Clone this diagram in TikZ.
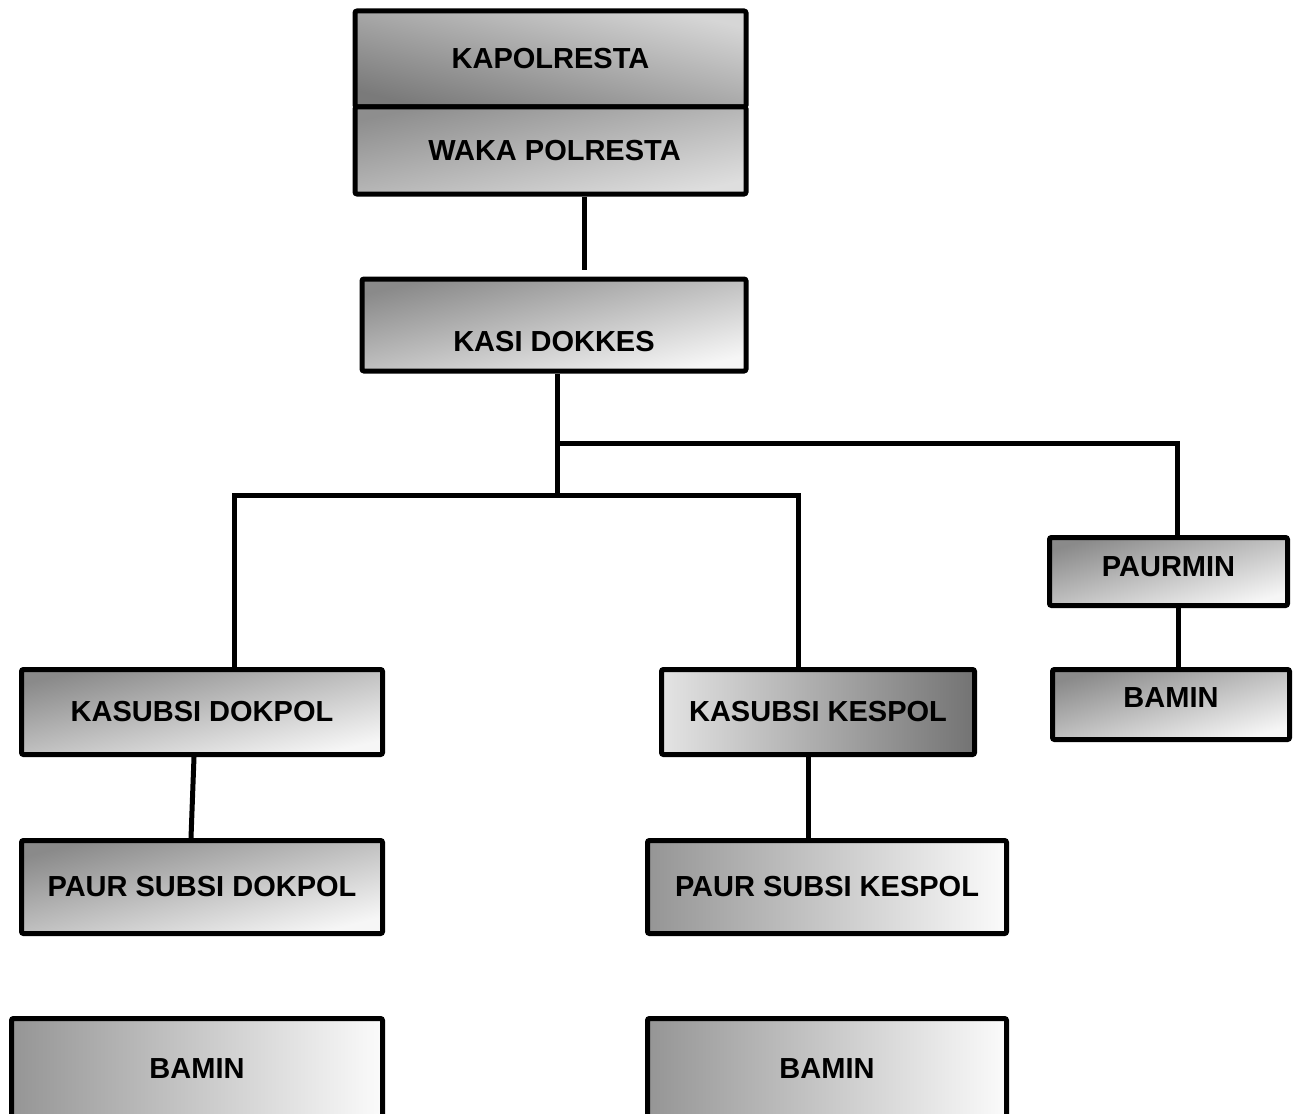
\documentclass[tikz,border=0pt]{standalone}
\usepackage{fontspec}
\setmainfont{Liberation Sans}
\definecolor{dk}{HTML}{8A8A8A}
\definecolor{lt}{HTML}{F6F6F6}
\definecolor{kdk}{HTML}{7A7A7A}
\definecolor{klt}{HTML}{D6D6D6}
\definecolor{wdk}{HTML}{8E8E8E}
\definecolor{wlt}{HTML}{DEDEDE}
\definecolor{hdk}{HTML}{959595}
\definecolor{hlt}{HTML}{FBFBFB}
\definecolor{rdk}{HTML}{737373}
\definecolor{rlt}{HTML}{E4E4E4}
\begin{document}
\begin{tikzpicture}[x=1pt,y=-1pt,
  every node/.style={font=\fontsize{29}{34}\selectfont\bfseries, text=black},
  box/.style={draw=black, line width=5pt, rounded corners=2pt, inner sep=0pt, rectangle},
  diag/.style={top color=dk, bottom color=lt, shading angle=#1},
  kapshade/.style={top color=klt, bottom color=kdk, shading angle=-14},
  wakashade/.style={top color=wdk, bottom color=wlt, shading angle=12.5},
  hshade/.style={left color=hdk, right color=hlt},
  rshade/.style={left color=rlt, right color=rdk},
  conn/.style={draw=black, line width=5pt}]
\useasboundingbox (0,0) rectangle (1297,1113);

% boxes
\node[box, kapshade, minimum width=391pt, minimum height=96pt] (kap) at (550.5,59) {KAPOLRESTA};
\node[box, wakashade, minimum width=391pt, minimum height=87pt] (waka) at (550.5,150.5) {\hspace{8pt}WAKA POLRESTA};
\node[box, diag=13.5, minimum width=384pt, minimum height=92pt,
      label={[name=kasit, yshift=-17pt]center:KASI DOKKES}] (kasi) at (554,325) {};
\node[box, diag=16, minimum width=238pt, minimum height=68pt,
      label={[name=paurmint, yshift=4.5pt]center:PAURMIN}] (paurmin) at (1168.5,571.5) {};
\node[box, diag=16.5, minimum width=237pt, minimum height=70pt,
      label={[name=bamrt, yshift=7pt]center:BAMIN}] (bamr) at (1171,704.5) {};
\node[box, diag=13.2, minimum width=361pt, minimum height=85pt] (ksd) at (202,712) {KASUBSI DOKPOL};
\node[box, diag=14.4, minimum width=361pt, minimum height=93pt] (psd) at (202,887) {PAUR SUBSI DOKPOL};
\node[box, hshade, minimum width=371pt, minimum height=100pt] (baml) at (197,1068.5) {BAMIN};
\node[box, rshade, minimum width=313pt, minimum height=85pt] (ksk) at (818,712) {KASUBSI KESPOL};
\node[box, hshade, minimum width=359pt, minimum height=93pt] (psk) at (827,887) {PAUR SUBSI KESPOL};
\node[box, hshade, minimum width=359pt, minimum height=100pt] (bamm) at (827,1068.5) {BAMIN};

% junctions
\coordinate (j1) at (557,443);
\coordinate (j2) at (557,495);

% connectors
\draw[conn] ([xshift=34pt]waka.south) -- ([xshift=30.5pt,yshift=7pt]kasi.north);
\draw[conn] ([xshift=3pt]kasi.south) -- (j2);
\draw[conn] (j1) -| ([xshift=8.5pt]paurmin.north);
\draw[conn] ([xshift=32.5pt]ksd.north) |- (j2) -| ([xshift=-19.5pt]ksk.north);
\draw[conn] ([xshift=9.5pt]paurmin.south) -- ([xshift=7pt]bamr.north);
\draw[conn] ([xshift=-8pt]ksd.south) -- ([xshift=-11pt]psd.north);
\draw[conn] ([xshift=-10pt]ksk.south) -- ([xshift=-19pt]psk.north);
\end{tikzpicture}
\end{document}
